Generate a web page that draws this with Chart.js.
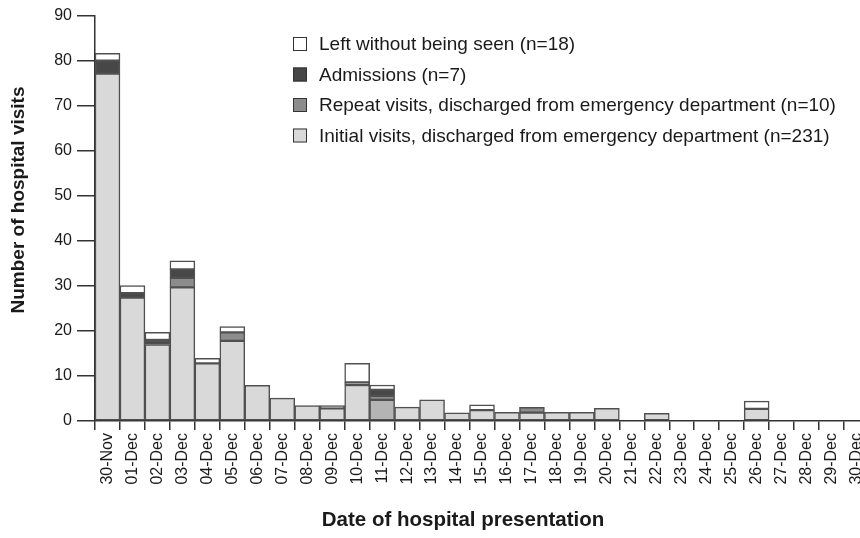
<!DOCTYPE html>
<html>
<head>
<meta charset="utf-8">
<script src="https://cdn.jsdelivr.net/npm/chart.js@4.4.1/dist/chart.umd.min.js"></script>
<style>
  html, body { margin: 0; padding: 0; background: #fff; overflow: hidden; }
  #wrap { width: 880px; height: 538px; }
</style>
</head>
<body>
<div id="wrap"><canvas id="visitsChart" width="880" height="538"></canvas></div>
<script>
// 数据：每日就诊人数（按类别堆叠）
const dates = ['30-Nov', '01-Dec', '02-Dec', '03-Dec', '04-Dec', '05-Dec', '06-Dec', '07-Dec',
  '08-Dec', '09-Dec', '10-Dec', '11-Dec', '12-Dec', '13-Dec', '14-Dec', '15-Dec', '16-Dec',
  '17-Dec', '18-Dec', '19-Dec', '20-Dec', '21-Dec', '22-Dec', '23-Dec', '24-Dec', '25-Dec',
  '26-Dec', '27-Dec', '28-Dec', '29-Dec', '30-Dec'];

const initialVisits = [77.2, 27.4, 17, 29.7, 12.8, 17.8, 7.9, 5.1, 3.4, 2.8, 8, 4.7, 3.1, 4.7, 1.8, 2.4,
  1.9, 1.85, 1.9, 1.9, 2.8, 0, 1.7, 0, 0, 0, 2.7, 0, 0, 0, 0];
const repeatVisits = [0, 0, 0, 2.1, 0, 1.9, 0, 0, 0, 0.6, 0.6, 0.9, 0, 0, 0, 0,
  0, 1.2, 0, 0, 0, 0, 0, 0, 0, 0, 0, 0, 0, 0, 0];
const admissions = [2.9, 1, 1, 1.9, 0, 0, 0, 0, 0, 0, 0, 1.3, 0, 0, 0, 0,
  0, 0, 0, 0, 0, 0, 0, 0, 0, 0, 0, 0, 0, 0, 0];
const leftWithoutSeen = [1.6, 1.7, 1.7, 1.9, 1.1, 1.3, 0, 0, 0, 0, 4.2, 1.1, 0, 0, 0, 1.2,
  0, 0, 0, 0, 0, 0, 0, 0, 0, 0, 1.7, 0, 0, 0, 0];

const seriesLabels = [
  'Initial visits, discharged from emergency department (n=231)',
  'Repeat visits, discharged from emergency department (n=10)',
  'Admissions (n=7)',
  'Left without being seen (n=18)'
];
const seriesColors = ['#d9d9d9', '#8c8c8c', '#474747', '#ffffff'];

const xTitle = 'Date of hospital presentation';
const yTitle = 'Number of hospital visits';

const FONT = '"Liberation Sans", Arial, Helvetica, sans-serif';
const TEXT = '#1a1a1a';

// 0 值不画
const clean = arr => arr.map(v => (v === 0 ? null : v));

// 11-Dec 底部颜色略深
const initialColors = dates.map(d => (d === '11-Dec' ? '#b4b4b4' : seriesColors[0]));

// 坐标轴标题和图例（自定义绘制）
const titlesAndKey = {
  id: 'titlesAndKey',
  afterDraw(chart) {
    const { ctx } = chart;
    ctx.save();
    ctx.fillStyle = TEXT;
    ctx.textAlign = 'center';
    ctx.textBaseline = 'middle';
    ctx.font = 'bold 20.5px ' + FONT;
    ctx.fillText(xTitle, 463, 520);
    ctx.font = 'bold 19px ' + FONT;
    ctx.translate(19, 200);
    ctx.rotate(-Math.PI / 2);
    ctx.fillText(yTitle, 0, 0);
    ctx.restore();

    ctx.save();
    ctx.font = '19px ' + FONT;
    ctx.textAlign = 'left';
    ctx.textBaseline = 'middle';
    const order = [3, 2, 1, 0];
    order.forEach((idx, i) => {
      const cy = 44 + 30.5 * i;
      ctx.fillStyle = seriesColors[idx];
      ctx.fillRect(293, cy - 7, 14, 14);
      ctx.strokeStyle = '#333';
      ctx.lineWidth = 1;
      ctx.strokeRect(293.5, cy - 6.5, 13, 13);
      ctx.fillStyle = TEXT;
      ctx.fillText(seriesLabels[idx], 319, cy + 1);
    });
    ctx.restore();
  }
};

const barStyle = {
  borderColor: '#505050',
  borderWidth: 1.5,
  borderSkipped: false,
  barPercentage: 1,
  categoryPercentage: 1,
};

const ctx = document.getElementById('visitsChart').getContext('2d');
new Chart(ctx, {
  type: 'bar',
  data: {
    labels: dates,
    datasets: [
      { label: seriesLabels[0], data: clean(initialVisits), backgroundColor: initialColors, ...barStyle },
      { label: seriesLabels[1], data: clean(repeatVisits), backgroundColor: seriesColors[1], ...barStyle },
      { label: seriesLabels[2], data: clean(admissions), backgroundColor: seriesColors[2], ...barStyle },
      { label: seriesLabels[3], data: clean(leftWithoutSeen), backgroundColor: seriesColors[3], ...barStyle },
    ],
  },
  options: {
    responsive: false,
    animation: false,
    layout: { padding: { top: 16, right: 11, left: 0, bottom: 0 } },
    plugins: {
      legend: { display: false },
      tooltip: { enabled: false },
    },
    scales: {
      x: {
        stacked: true,
        offset: true,
        grid: { offset: true, drawOnChartArea: false, drawTicks: true, tickLength: 9, color: '#333', lineWidth: 1.5 },
        border: { display: true, color: '#333', width: 1.5 },
        ticks: {
          autoSkip: false, minRotation: 90, maxRotation: 90, padding: 3,
          color: TEXT, font: { family: FONT, size: 16 },
        },
        afterFit(scale) { scale.height = 117; },
      },
      y: {
        stacked: true,
        min: 0,
        max: 90,
        grid: { drawOnChartArea: false, drawTicks: true, tickLength: 18, color: '#333', lineWidth: 1.5 },
        border: { display: true, color: '#333', width: 1.5 },
        ticks: { stepSize: 10, padding: 5, color: TEXT, font: { family: FONT, size: 16 } },
        afterFit(scale) { scale.width = 95; },
      },
    },
  },
  plugins: [titlesAndKey],
});
</script>
</body>
</html>
